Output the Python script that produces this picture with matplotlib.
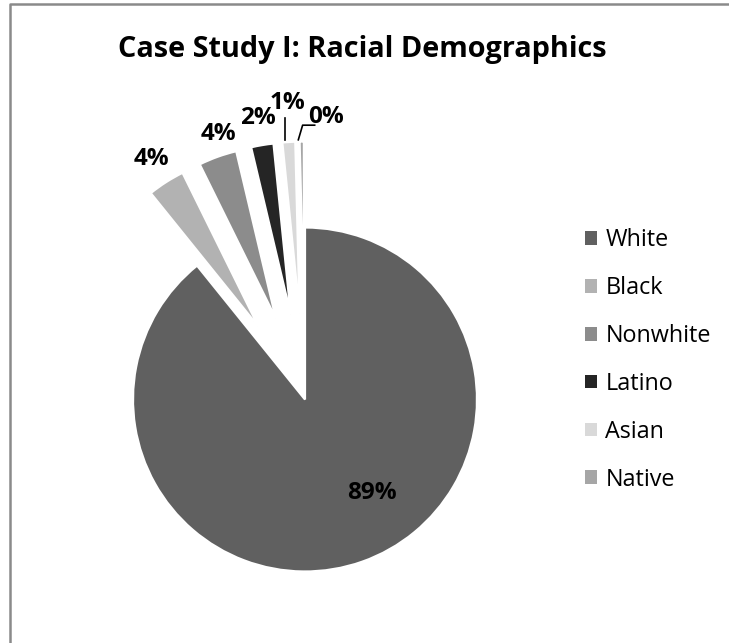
import numpy as np
import matplotlib
matplotlib.use("Agg")
import matplotlib.pyplot as plt
from matplotlib.lines import Line2D

categories = ["White", "Black", "Nonwhite", "Latino", "Asian", "Native"]
values = [89.2, 3.5, 3.6, 2.1, 1.2, 0.4]
colors = ["#606060", "#b2b2b2", "#8c8c8c", "#252525", "#d9d9d9", "#a6a6a6"]
explode = [0, 0.5, 0.5, 0.5, 0.5, 0.5]
title = "Case Study I: Racial Demographics"

W, H = 729, 643
fig = plt.figure(figsize=(W / 100, H / 100), dpi=100)
fig.patch.set_facecolor("white")

# chart-area border (left and top visible)
fig.add_artist(Line2D([9.5 / W, 9.5 / W, 1.0], [0.0, 1 - 3.5 / H, 1 - 3.5 / H],
                      transform=fig.transFigure, color="#8a8a8a", lw=1.8))

ax = fig.add_axes([0, 0, 1, 1])
cx, cy, R = 305.0, H - 399.5, 172.0

wedges, _ = ax.pie(values, colors=colors, explode=explode, startangle=90,
                   counterclock=False, radius=1.0, center=(0, 0),
                   wedgeprops=dict(edgecolor="white", linewidth=1.6), frame=True)
ax.set_xlim(-cx / R, (W - cx) / R)
ax.set_ylim(-cy / R, (H - cy) / R)
ax.set_aspect("equal")
ax.axis("off")

total = sum(values)
lab_font = dict(family="Open Sans", fontweight="bold", fontsize=17.5, color="black")
for i, w in enumerate(wedges):
    pct = "%.0f%%" % (100 * values[i] / total)
    th = np.deg2rad(0.5 * (w.theta1 + w.theta2))
    d = np.array([np.cos(th), np.sin(th)])
    c = np.array(w.center)
    if i == 0:
        a = np.deg2rad(-54.5)
        p = 0.67 * np.array([np.cos(a), np.sin(a)])
        ax.text(p[0], p[1], pct, ha="center", va="center", **lab_font)
    elif categories[i] == "Asian":
        o = c + d
        ax.plot([o[0] - 0.02, o[0] - 0.02], [o[1] + 0.01, o[1] + 0.14], color="black", lw=1.2)
        ax.text(o[0] - 0.005, o[1] + 0.225, pct, ha="center", va="center", **lab_font)
    elif categories[i] == "Native":
        o = c + d
        xs = [o[0] - 0.02, o[0] + 0.005, o[0] + 0.075]
        ys = [o[1] + 0.01, o[1] + 0.095, o[1] + 0.095]
        ax.plot(xs, ys, color="black", lw=1.2)
        ax.text(o[0] + 0.14, o[1] + 0.14, pct, ha="center", va="center", **lab_font)
    elif categories[i] == "Nonwhite":
        p = c + 1.16 * d
        ax.text(p[0] + 0.06, p[1] - 0.02, pct, ha="center", va="center", **lab_font)
    else:
        p = c + 1.16 * d
        ax.text(p[0], p[1], pct, ha="center", va="center", **lab_font)

fig.text(362.5 / W, 1 - 49 / H, title, ha="center", va="center",
         family="Open Sans", fontweight="bold", fontsize=20.8)

leg = fig.legend(wedges, categories, loc="center left",
                 bbox_to_anchor=(585 / W, 1 - 360 / H), frameon=False,
                 prop=dict(family="Open Sans", size=16.8),
                 handlelength=0.52, handleheight=0.52, handletextpad=0.35,
                 labelspacing=1.02, borderpad=0, borderaxespad=0)
for h in leg.legend_handles:
    h.set_edgecolor("none")

fig.savefig("out.png", dpi=100, facecolor="white")
